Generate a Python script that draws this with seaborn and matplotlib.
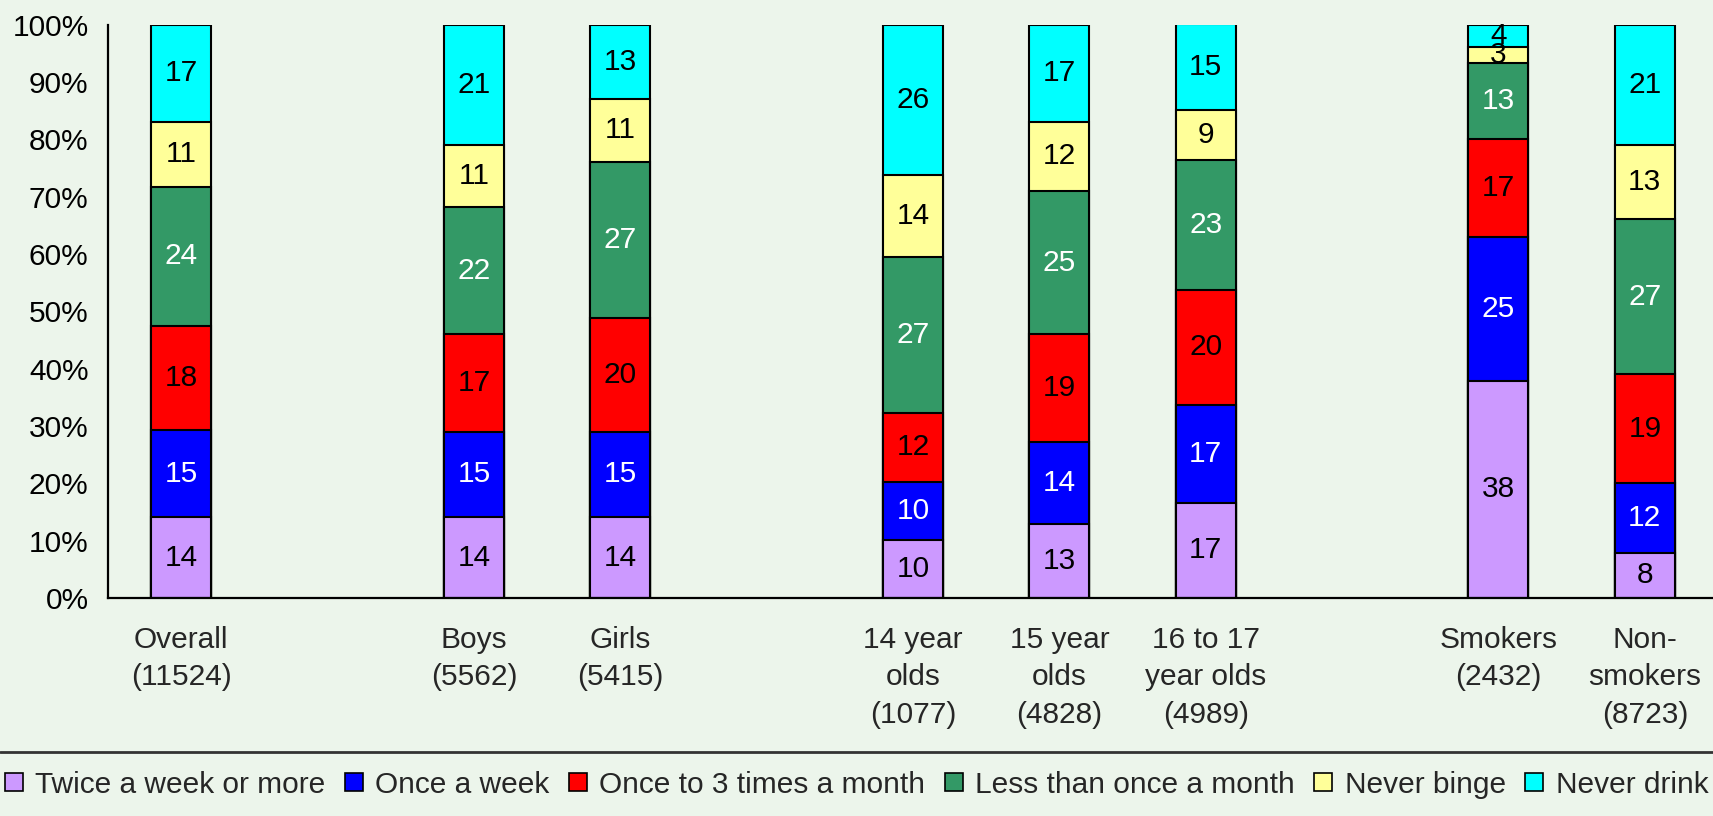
import matplotlib
matplotlib.use("Agg")
import matplotlib.pyplot as plt
from matplotlib.patches import Patch
from matplotlib.lines import Line2D
import numpy as np
import pandas as pd
import seaborn as sns

# ---------------- data ----------------
categories = ["Overall", "Boys", "Girls", "14 year olds", "15 year olds",
              "16 to 17 year olds", "Smokers", "Non-smokers"]
tick_labels = ["Overall\n(11524)", "Boys\n(5562)", "Girls\n(5415)",
               "14 year\nolds\n(1077)", "15 year\nolds\n(4828)",
               "16 to 17\nyear olds\n(4989)", "Smokers\n(2432)",
               "Non-\nsmokers\n(8723)"]
series_names = ["Twice a week or more", "Once a week", "Once to 3 times a month",
                "Less than once a month", "Never binge", "Never drink"]
twice_week = [14.1, 14.1, 14.1, 10.1, 12.9, 16.6, 37.9, 7.9]
once_week = [15.2, 14.9, 14.9, 10.2, 14.3, 17.1, 25.1, 12.1]
once_to_3_month = [18.1, 17.0, 19.9, 11.9, 18.8, 20.0, 17.1, 19.1]
less_than_month = [24.3, 22.1, 27.2, 27.2, 25.0, 22.6, 13.1, 26.9]
never_binge = [11.3, 10.9, 10.9, 14.4, 12.0, 8.8, 2.8, 13.0]
never_drink = [17.0, 21.0, 13.0, 26.1, 17.0, 14.9, 4.0, 21.0]

series_values = [twice_week, once_week, once_to_3_month,
                 less_than_month, never_binge, never_drink]
colors = ["#CC99FF", "#0000FF", "#FF0000", "#339966", "#FFFF99", "#00FFFF"]
label_colors = ["black", "white", "black", "white", "black", "black"]

# slot order with empty gaps between groups
slot_order = ["Overall", "_gap1", "Boys", "Girls", "_gap2", "14 year olds",
              "15 year olds", "16 to 17 year olds", "_gap3", "Smokers", "Non-smokers"]

# ---------------- style ----------------
bg = "#ECF5EB"
sns.set_theme(style="white")
plt.rcParams["font.family"] = ["Liberation Sans", "DejaVu Sans"]
FS = 21.5

W, H = 1713, 816
fig = plt.figure(figsize=(W / 100, H / 100), dpi=100, facecolor=bg)
ax = fig.add_axes([108 / W, 1 - 598 / H, 1610 / W, (598 - 24.5) / H])
ax.set_facecolor(bg)

df = pd.DataFrame({"category": categories})
cum = np.cumsum(np.array(series_values), axis=0)

# draw stacked bars back-to-front using cumulative totals
for i in reversed(range(len(series_values))):
    df["value"] = cum[i]
    sns.barplot(data=df, x="category", y="value", order=slot_order,
                color=colors[i], saturation=1, width=0.41,
                edgecolor="black", linewidth=1.5, errorbar=None, ax=ax)

# value labels
pos = {c: slot_order.index(c) for c in categories}
for i, vals in enumerate(series_values):
    for j, c in enumerate(categories):
        bottom = cum[i][j] - vals[j]
        ax.text(pos[c], bottom + vals[j] / 2, f"{round(vals[j])}",
                ha="center", va="center", fontsize=FS, color=label_colors[i])

# axes formatting
ax.set_xlim(-0.5, len(slot_order) - 0.5)
ax.set_ylim(0, 100)
ax.set_xlabel("")
ax.set_ylabel("")
ax.set_yticks(np.arange(0, 101, 10))
ax.set_yticklabels([f"{v}%" for v in range(0, 101, 10)], fontsize=FS)
ax.tick_params(axis="y", direction="out", length=5, width=1.5, pad=9, colors="black")

ax.set_xticks([pos[c] for c in categories])
ax.set_xticklabels(tick_labels, fontsize=FS, linespacing=1.44, va="top")
ax.tick_params(axis="x", which="major", length=0, pad=20)
ax.set_xticks(np.arange(-0.5, len(slot_order), 1.0), minor=True)
ax.tick_params(axis="x", which="minor", direction="out", length=6.5, width=1.5, color="black")

for s in ["top", "right"]:
    ax.spines[s].set_visible(False)
for s in ["left", "bottom"]:
    ax.spines[s].set_color("black")
    ax.spines[s].set_linewidth(1.6)
ax.grid(False)

# separator line above legend
fig.add_artist(Line2D([0, 1], [1 - 752 / H, 1 - 752 / H], transform=fig.transFigure,
                      color="#333333", linewidth=2))

handles = [Patch(facecolor=colors[i], edgecolor="black", linewidth=1.2)
           for i in range(len(series_names))]
fig.legend(handles, series_names, loc="center", bbox_to_anchor=(0.5, 1 - 785 / H),
           ncol=6, frameon=False, fontsize=FS, handlelength=0.6, handleheight=0.55,
           handletextpad=0.42, columnspacing=0.65, borderaxespad=0, borderpad=0)

fig.savefig("out.png", dpi=100, facecolor=bg)
